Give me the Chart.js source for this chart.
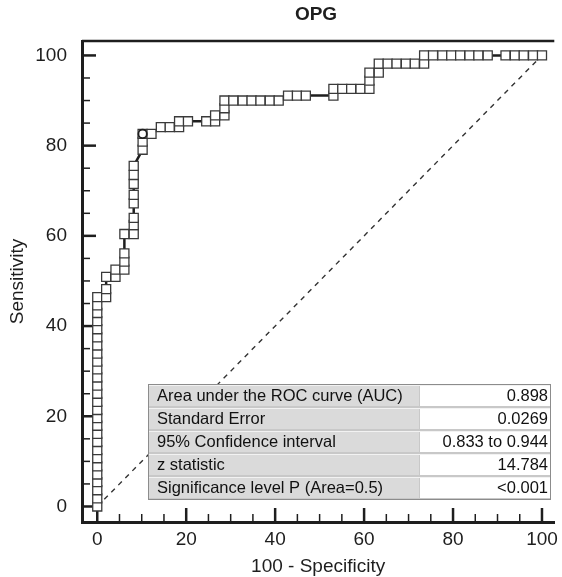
<!DOCTYPE html>
<html>
<head>
<meta charset="utf-8">
<script src="https://cdn.jsdelivr.net/npm/chart.js@4"></script>
<style>
  html, body { margin: 0; padding: 0; background: #fff; }
</style>
</head>
<body>
<canvas id="roc" width="562" height="577"></canvas>
<script>
const fontFamily = "'Liberation Sans', Arial, Helvetica, sans-serif"
const ink = '#1e1e1e'

// tick labels
const xTicks = [0, 20, 40, 60, 80, 100]
const yTicks = [0, 20, 40, 60, 80, 100]
const minorStep = 5

// ROC points: 100 - specificity / sensitivity
const fpr = [
  0, 0, 0, 0, 0, 0, 0, 0, 0, 0, 0, 0, 0, 0, 0, 0, 0, 0, 0, 0, 0, 0, 0, 0, 0, 0, 0,
  2.0, 2.0, 2.0, 4.1, 4.1, 6.1, 6.1, 6.1, 6.1,
  8.2, 8.2, 8.2, 8.2, 8.2, 8.2, 8.2, 8.2,
  10.2, 10.2, 10.2, 12.2, 14.3, 16.3, 18.4, 18.4, 20.4,
  24.5, 26.5, 26.5, 28.6, 28.6, 28.6,
  30.6, 32.7, 34.7, 36.7, 38.8, 40.8,
  42.9, 44.9, 46.9, 53.1, 53.1, 55.1, 57.1, 59.2,
  61.2, 61.2, 61.2, 63.3, 63.3,
  65.3, 67.3, 69.4, 71.4, 73.5, 73.5,
  75.5, 77.6, 79.6, 81.6, 83.7, 85.7, 87.8,
  91.8, 93.9, 95.9, 98.0, 100
]
const tpr = [
  0, 1.8, 3.6, 5.4, 7.1, 8.9, 10.7, 12.5, 14.3, 16.1, 17.9, 19.6, 21.4, 23.2, 25.0, 26.8, 28.6, 30.4, 32.1, 33.9, 35.7, 37.5, 39.3, 41.1, 42.9, 44.6, 46.4,
  46.4, 48.2, 50.9, 50.9, 52.5, 52.5, 54.3, 56.1, 60.4,
  60.4, 62.4, 64.0, 67.2, 69.1, 71.5, 73.5, 75.5,
  79.1, 80.9, 82.6, 82.6, 84.1, 84.1, 84.1, 85.4, 85.4,
  85.4, 85.4, 86.7, 86.7, 88.3, 90.0,
  90.0, 90.0, 90.0, 90.0, 90.0, 90.0,
  91.1, 91.1, 91.1, 91.1, 92.6, 92.6, 92.6, 92.6,
  92.6, 94.4, 96.2, 96.2, 98.2,
  98.2, 98.2, 98.2, 98.2, 98.2, 100,
  100, 100, 100, 100, 100, 100, 100,
  100, 100, 100, 100, 100
]

// optimal criterion (circle)
const cutX = [10.2]
const cutY = [82.6]

// chance diagonal
const chanceX = [0, 100]
const chanceY = [0, 100]

// summary table
const statLabels = [
  'Area under the ROC curve (AUC)',
  'Standard Error',
  '95% Confidence interval',
  'z statistic',
  'Significance level P (Area=0.5)'
]
const statValues = ['0.898', '0.0269', '0.833 to 0.944', '14.784', '<0.001']

const toXY = (xs, ys) => xs.map((x, i) => ({ x: x, y: ys[i] }))

const tickFont = { family: fontFamily, size: 19 }
const titleFont = { family: fontFamily, size: 19 }

// inward tick marks, top border, title and the stats table
const frame = {
  id: 'frame',
  beforeDatasetsDraw(chart) {
    const { ctx, chartArea: a, scales: { x, y } } = chart
    ctx.save()
    ctx.strokeStyle = ink
    ctx.lineWidth = 2.5
    ctx.beginPath()
    ctx.moveTo(a.left, a.top)
    ctx.lineTo(a.right, a.top)
    ctx.stroke()
    for (let v = 0; v <= 100; v += minorStep) {
      const major = v % 20 === 0
      const len = major ? 14 : 8
      ctx.lineWidth = major ? 2.5 : 1.5
      const px = x.getPixelForValue(v)
      ctx.beginPath()
      ctx.moveTo(px, a.bottom)
      ctx.lineTo(px, a.bottom - len)
      ctx.stroke()
      const py = y.getPixelForValue(v)
      ctx.beginPath()
      ctx.moveTo(a.left, py)
      ctx.lineTo(a.left + len, py)
      ctx.stroke()
    }
    ctx.restore()
  },
  afterDatasetsDraw(chart) {
    const { ctx } = chart
    ctx.save()
    // title
    ctx.fillStyle = ink
    ctx.font = 'bold 19px ' + fontFamily
    ctx.textAlign = 'center'
    ctx.textBaseline = 'middle'
    ctx.fillText('OPG', 316, 15)

    // table
    const left = 148, top = 384, right = 551, split = 419, rowH = 23
    const rows = statLabels.length
    ctx.fillStyle = '#c8c8c8'
    ctx.fillRect(left, top, right - left, rows * rowH)
    for (let i = 0; i < rows; i++) {
      const ry = top + i * rowH
      ctx.fillStyle = '#dadada'
      ctx.fillRect(left + 1, ry + 1, split - left - 1, rowH - 2)
      ctx.fillStyle = '#ffffff'
      ctx.fillRect(split + 1, ry + 1, right - split - 2, rowH - 2)
      ctx.strokeStyle = '#f2f2f2'
      ctx.lineWidth = 1
      ctx.beginPath()
      ctx.moveTo(left + 1, ry + 1.5)
      ctx.lineTo(right - 1, ry + 1.5)
      ctx.stroke()
      ctx.fillStyle = '#111'
      ctx.font = '16.5px ' + fontFamily
      ctx.textBaseline = 'middle'
      ctx.textAlign = 'left'
      ctx.fillText(statLabels[i], left + 9, ry + rowH / 2 + 1)
      ctx.textAlign = 'right'
      ctx.fillText(statValues[i], right - 3, ry + rowH / 2 + 1)
    }
    ctx.strokeStyle = '#8c8c8c'
    ctx.lineWidth = 1
    ctx.strokeRect(left + 0.5, top + 0.5, right - left - 1, rows * rowH)
    ctx.restore()
  }
}

const chart = new Chart(document.getElementById('roc'), {
  type: 'scatter',
  data: {
    datasets: [{
      label: 'Criterion',
      data: toXY(cutX, cutY),
      pointStyle: 'circle',
      pointRadius: 4.2,
      pointBackgroundColor: '#fff',
      pointBorderColor: ink,
      pointBorderWidth: 1.8,
      showLine: false
    }, {
      label: 'OPG',
      data: toXY(fpr, tpr),
      showLine: true,
      borderColor: ink,
      borderWidth: 2.5,
      pointStyle: 'rect',
      pointRadius: 6.4,
      pointBackgroundColor: '#fff',
      pointBorderColor: '#3a3a3a',
      pointBorderWidth: 1.3
    }, {
      label: 'Chance',
      data: toXY(chanceX, chanceY),
      showLine: true,
      borderColor: '#333',
      borderWidth: 1.4,
      borderDash: [5, 5],
      pointRadius: 0
    }]
  },
  options: {
    responsive: false,
    devicePixelRatio: 1,
    animation: false,
    layout: { padding: { top: 41, right: 0, left: 0, bottom: 0 } },
    scales: {
      x: {
        type: 'linear',
        min: -3.43,
        max: 102.77,
        afterBuildTicks: s => { s.ticks = xTicks.map(v => ({ value: v })) },
        afterFit: s => { s.height = 55; s.paddingLeft = 0; s.paddingRight = 0 },
        grid: { display: false },
        border: { display: true, color: ink, width: 3 },
        ticks: { color: ink, font: tickFont, padding: -2, maxRotation: 0, autoSkip: false },
        title: { display: true, text: '100 - Specificity', color: ink, font: titleFont, padding: { bottom: -1 } }
      },
      y: {
        type: 'linear',
        min: -3.44,
        max: 103.2,
        afterBuildTicks: s => { s.ticks = yTicks.map(v => ({ value: v })) },
        afterFit: s => { s.width = 82; s.paddingTop = 0; s.paddingBottom = 0 },
        grid: { display: false },
        border: { display: true, color: ink, width: 3 },
        ticks: { color: ink, font: tickFont, padding: 7, autoSkip: false },
        title: { display: true, text: 'Sensitivity', color: ink, font: titleFont, padding: { top: 6 } }
      }
    },
    plugins: {
      legend: { display: false },
      tooltip: { enabled: false }
    }
  },
  plugins: [frame]
})
</script>
</body>
</html>
